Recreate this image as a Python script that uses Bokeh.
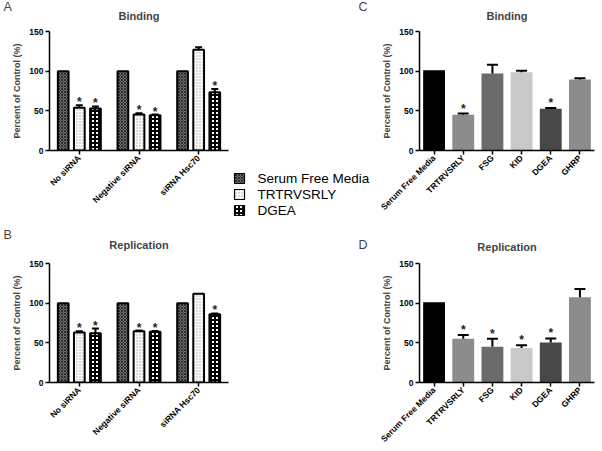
import numpy as np
from bokeh.plotting import figure
from bokeh.models import (ColumnDataSource, FactorRange, Range1d, FixedTicker, Title)
from bokeh.transform import dodge
from bokeh.layouts import row, column
from bokeh.embed import file_html
from bokeh.resources import INLINE
from bokeh.core.properties import value

# ---------------- data ----------------
groups = ["No siRNA", "Negative siRNA", "siRNA Hsc70"]
series = ["Serum Free Media", "TRTRVSRLY", "DGEA"]

bind_sfm = [100, 100, 100]
bind_trt = [54, 45.5, 127]
bind_trt_err = [3, 1.5, 3]
bind_trt_sig = [True, True, False]
bind_dgea = [53, 44.5, 73.5]
bind_dgea_err = [2.5, 0.8, 4]
bind_dgea_sig = [True, True, True]

rep_sfm = [100, 100, 100]
rep_trt = [63, 64.5, 112]
rep_trt_err = [1.5, 1, 0]
rep_trt_sig = [True, True, False]
rep_dgea = [62, 64, 86]
rep_dgea_err = [6, 0.8, 1]
rep_dgea_sig = [True, True, True]

peptides = ["Serum Free Media", "TRTRVSRLY", "FSG", "KID", "DGEA", "GHRP"]
pep_colors = ["#000000", "#8c8c8c", "#6b6b6b", "#c9c9c9", "#484848", "#8c8c8c"]
c_bind = [101, 45, 97, 98.5, 52.5, 89.5]
c_bind_err = [0, 1.5, 11, 2, 1, 1.5]
c_bind_sig = [False, True, False, False, True, False]
d_rep = [101, 55, 45, 43.5, 50.5, 107.5]
d_rep_err = [0, 5, 10, 3.5, 5, 10.5]
d_rep_sig = [False, True, True, True, True, False]

y_ticks = [0, 50, 100, 150]

FONT = "Liberation Sans"

styles = {
    "Serum Free Media": dict(fill_color="#6e6e6e", hatch_pattern="diagonal_cross",
                             hatch_color="#2e2e2e", hatch_scale=3, hatch_weight=1),
    "TRTRVSRLY": dict(fill_color="#ffffff", hatch_pattern="dot",
                      hatch_color="#a0a0a0", hatch_scale=3, hatch_weight=1),
    "DGEA": dict(fill_color="#ffffff", hatch_pattern="cross",
                 hatch_color="#000000", hatch_scale=4, hatch_weight=2),
}


def base_fig(factors, letter, title, top, bottom, left, right, fw,
             title_standoff, letter_offset, letter_standoff):
    # the panel letter is the (outermost) plot title, the chart title sits below it
    p = figure(x_range=FactorRange(*factors), y_range=Range1d(0, 150),
               frame_width=fw, frame_height=119,
               min_border_top=top, min_border_bottom=bottom,
               min_border_left=left, min_border_right=right,
               output_backend="svg", toolbar_location=None, title=letter)
    p.x_range.range_padding = 0
    p.title.align = "left"
    p.title.offset = letter_offset
    p.title.vertical_align = "bottom"
    p.title.standoff = letter_standoff
    p.title.text_font = FONT
    p.title.text_font_size = "12.5px"
    p.title.text_font_style = "normal"
    p.add_layout(Title(text=title, align="center", vertical_align="top",
                       standoff=title_standoff, text_font=FONT,
                       text_font_size="11px", text_font_style="bold"), "above")
    p.outline_line_color = None
    p.border_fill_color = None
    p.xgrid.visible = False
    p.ygrid.visible = False
    for ax in (p.xaxis, p.yaxis):
        ax.axis_line_width = 1.5
        ax.axis_line_color = "black"
        ax.major_tick_line_width = 1.5
        ax.major_tick_in = 0
        ax.major_tick_out = 4
        ax.minor_tick_line_color = None
        ax.major_label_text_font = FONT
        ax.major_label_text_font_size = "8.5px"
        ax.major_label_text_font_style = "bold"
        ax.major_label_text_color = "black"
    p.yaxis.ticker = FixedTicker(ticks=y_ticks)
    p.yaxis.axis_label = "Percent of Control (%)"
    p.yaxis.axis_label_text_font = FONT
    p.yaxis.axis_label_text_font_size = "9px"
    p.yaxis.axis_label_text_font_style = "bold"
    p.yaxis.axis_label_standoff = 4
    p.yaxis.major_label_standoff = 2
    p.xaxis.major_label_orientation = np.pi / 4
    p.xaxis.major_label_standoff = 2
    return p


def err_and_stars(p, xs, vals, errs, sigs, xt, cap, star_off):
    keep = [i for i, e in enumerate(errs) if e > 0]
    src = ColumnDataSource(dict(x=[xs[i] for i in keep],
                                y0=[vals[i] for i in keep],
                                y1=[vals[i] + errs[i] for i in keep]))
    p.segment(x0=xt, y0="y0", x1=xt, y1="y1", source=src, line_color="black", line_width=2)
    p.dash(x=xt, y="y1", source=src, size=cap, line_color="black", line_width=2, angle=0)
    sk = [i for i, s in enumerate(sigs) if s]
    ssrc = ColumnDataSource(dict(x=[xs[i] for i in sk],
                                 y=[vals[i] + errs[i] for i in sk],
                                 t=["*"] * len(sk)))
    p.text(x=xt, y="y", text="t", source=ssrc, text_align="center",
           text_baseline="alphabetic", y_offset=star_off, text_font=value(FONT),
           text_font_size="12px", text_font_style="bold", text_color="#222222")


def group_panel(letter, title, sfm, trt, trt_err, trt_sig, dgea, dgea_err, dgea_sig,
                top, bottom, tso, lso):
    p = base_fig(groups, letter, title, top, bottom, 49, 4, 179, tso, -46, lso)
    src = ColumnDataSource(dict(g=groups, sfm=sfm, trt=trt, dgea=dgea))
    offs = {"Serum Free Media": -0.27, "TRTRVSRLY": 0.0, "DGEA": 0.27}
    cols = {"Serum Free Media": "sfm", "TRTRVSRLY": "trt", "DGEA": "dgea"}
    for s in series:
        p.vbar(x=dodge("g", offs[s], range=p.x_range), top=cols[s], width=0.18,
               source=src, line_color="black", line_width=2, **styles[s])
    err_and_stars(p, groups, trt, trt_err, trt_sig,
                  dodge("x", offs["TRTRVSRLY"], range=p.x_range), 7, -3)
    err_and_stars(p, groups, dgea, dgea_err, dgea_sig,
                  dodge("x", offs["DGEA"], range=p.x_range), 7, -3)
    return p


def peptide_panel(letter, title, vals, errs, sigs, top, bottom, tso, lso):
    p = base_fig(peptides, letter, title, top, bottom, 187, 6, 175, tso, -61, lso)
    src = ColumnDataSource(dict(x=peptides, top=vals, c=pep_colors))
    p.vbar(x="x", top="top", width=0.75, source=src, fill_color="c", line_color=None)
    err_and_stars(p, peptides, vals, errs, sigs, "x", 11, -5)
    return p


pA = group_panel("A", "Binding", bind_sfm, bind_trt, bind_trt_err, bind_trt_sig,
                 bind_dgea, bind_dgea_err, bind_dgea_sig, 31, 75, 16, -25.4)
pB = group_panel("B", "Replication", rep_sfm, rep_trt, rep_trt_err, rep_trt_sig,
                 rep_dgea, rep_dgea_err, rep_dgea_sig, 38, 64, 19.5, -24.5)
pC = peptide_panel("C", "Binding", c_bind, c_bind_err, c_bind_sig, 31, 80, 16, -25.4)
pD = peptide_panel("D", "Replication", d_rep, d_rep_err, d_rep_sig, 33, 64, 16.5, -38)

# legend for the hatched series: a small transparent figure laid over the gap,
# one row per series on a categorical y range
pL = figure(x_range=Range1d(0, 160), y_range=FactorRange(*reversed(series)),
            frame_width=160, frame_height=48, min_border=0,
            x_axis_type=None, y_axis_type=None, output_backend="svg",
            toolbar_location=None, margin=(170, 0, 0, -372))
pL.y_range.range_padding = 0
pL.outline_line_color = None
pL.background_fill_color = None
pL.border_fill_color = None
pL.xgrid.visible = False
pL.ygrid.visible = False
lsrc = ColumnDataSource(dict(
    s=series,
    fc=[styles[s]["fill_color"] for s in series],
    hp=[styles[s]["hatch_pattern"] for s in series],
    hc=[styles[s]["hatch_color"] for s in series],
    hs=[styles[s]["hatch_scale"] for s in series],
    hw=[styles[s]["hatch_weight"] for s in series],
))
pL.rect(x=11, y="s", width=10, height=10, width_units="screen", height_units="screen",
        source=lsrc, fill_color="fc", hatch_pattern="hp", hatch_color="hc",
        hatch_scale="hs", hatch_weight="hw", line_color="black", line_width=1.2)
pL.text(x=29, y="s", text="s", source=lsrc, text_baseline="middle",
        text_font=value(FONT), text_font_size="13.5px", text_color="black")

layout = row(column(pA, pB), column(pC, pD), pL)

open("out.html", "w").write(file_html(layout, INLINE))
